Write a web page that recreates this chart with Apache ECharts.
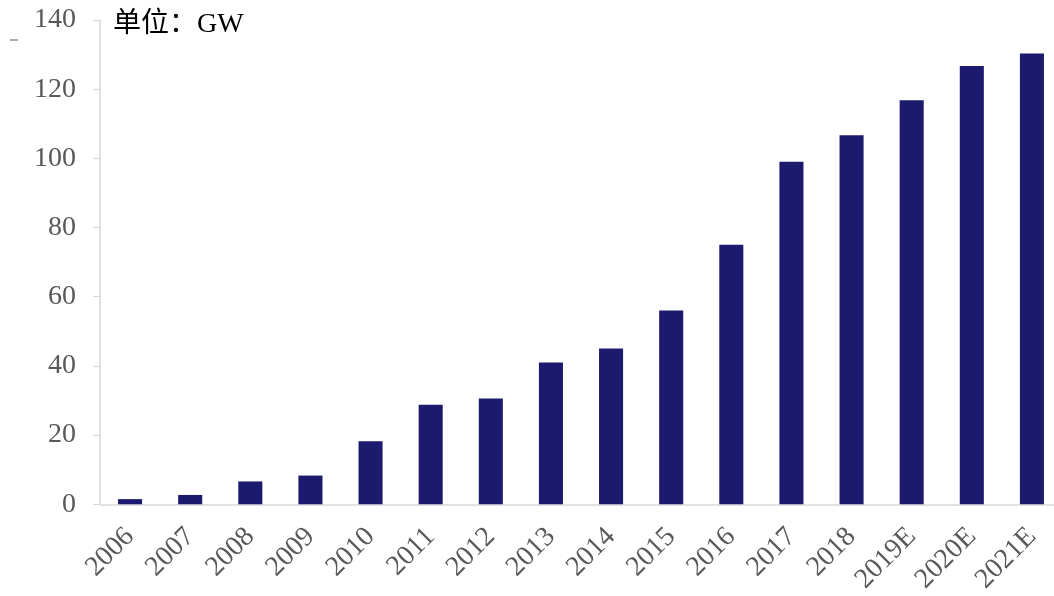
<!DOCTYPE html>
<html><head><meta charset="utf-8">
<script src="https://cdn.jsdelivr.net/npm/echarts@6/dist/echarts.min.js"></script>
<style>html,body{margin:0;padding:0;background:#fff;overflow:hidden;width:1054px;height:596px}#c{width:1062px;height:596px}</style>
</head><body><div id="c"></div>
<script>
const categories = ['2006','2007','2008','2009','2010','2011','2012','2013','2014','2015','2016','2017','2018','2019E','2020E','2021E'];
const values = [1.5, 2.7, 6.6, 8.3, 18.2, 28.8, 30.6, 41, 45, 56, 75, 99, 106.7, 116.8, 126.7, 130.3];
const unitLabel = '单位：GW';
const chart = echarts.init(document.getElementById('c'));
chart.setOption({
  animation: false,
  backgroundColor: '#fff',
  title: { text: unitLabel, left: 108, top: 6,
    textStyle: { fontFamily: 'Liberation Serif, Noto Sans CJK SC', fontSize: 28, fontWeight: 'normal', color: '#000' } },
  grid: { left: 100, right: 0, top: 20, bottom: 91, containLabel: false },
  xAxis: { type: 'category', data: categories,
    axisLine: { lineStyle: { color: '#d9d9d9', width: 1.5 } },
    axisTick: { show: false },
    axisLabel: { rotate: 45, interval: 0, margin: 28, color: '#595959', fontSize: 28, fontFamily: 'Liberation Serif' } },
  yAxis: { type: 'value', min: 0, max: 140, interval: 20,
    axisLine: { show: true, lineStyle: { color: '#d9d9d9', width: 1.5 } },
    axisTick: { show: true, length: 7, lineStyle: { color: '#d9d9d9' } },
    splitLine: { show: false },
    axisLabel: { margin: 24, color: '#595959', fontSize: 28, fontFamily: 'Liberation Serif' } },
  graphic: [{ type: 'line', shape: { x1: 10, y1: 40, x2: 18, y2: 40 }, style: { stroke: '#595959', lineWidth: 1 } }],
  series: [{ type: 'bar', data: values, barWidth: '40%',
    itemStyle: { color: '#1b1a6e' } }]
});
</script></body></html>
